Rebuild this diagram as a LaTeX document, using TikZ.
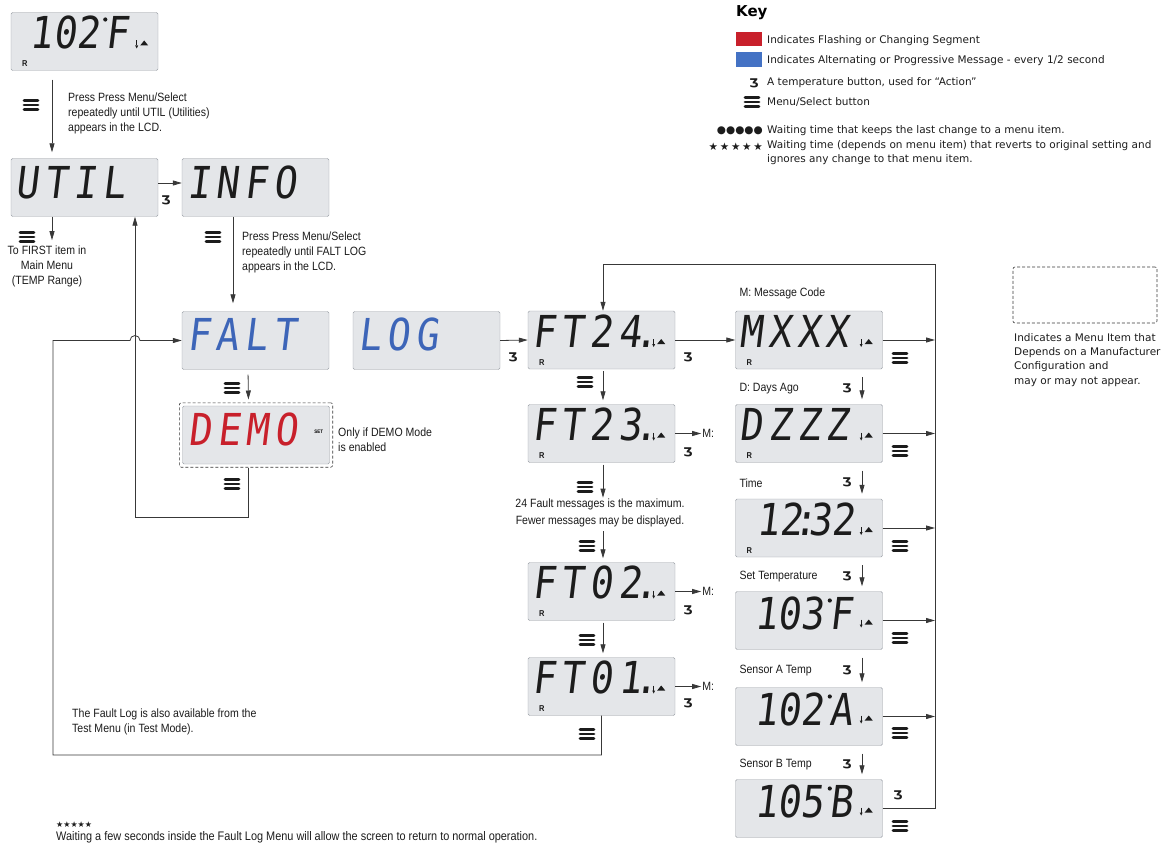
\documentclass[tikz,border=0pt]{standalone}
\usepackage{fontspec}
\setmainfont{Liberation Sans}[FakeStretch=0.88]
\newfontfamily\flkeyfont{DejaVu Sans}
\newfontfamily\flsegfont{DejaVu Sans Mono}[FakeSlant=0.12,FakeStretch=0.87]
\newfontfamily\flsegwide{DejaVu Sans Mono}[FakeSlant=0.12,FakeStretch=0.87,LetterSpace=13]
\usetikzlibrary{arrows.meta,positioning,calc,fit}
\definecolor{flink}   {HTML}{1C1C1C}
\definecolor{flwirec} {HTML}{383838}
\definecolor{flscreen}{HTML}{E4E6E9}
\definecolor{flrim}   {HTML}{9A9EA5}
\definecolor{flblue}  {HTML}{3D65B8}
\definecolor{flred}   {HTML}{C8202B}
\definecolor{flkeyblu}{HTML}{4472C4}
\newcommand\fldeg{\hspace{6pt}}
\newcommand\fldp{\kern-0.16em.}
\tikzset{
  fllcd/.style={draw=flrim, fill=flscreen, rounded corners=1.5pt, minimum width=147pt,
                minimum height=58pt, inner sep=0pt},
  flseg/.style={font=\flsegwide\fontsize{44}{44}\selectfont, text=flink, inner sep=0pt,
                anchor=base west},
  flsegnum/.style={flseg, font=\flsegfont\fontsize{44}{44}\selectfont},
  flarrow/.style={-{Triangle[length=9pt,width=5pt]}, draw=flwirec, line width=0.8pt},
  fltext/.style={font=\fontsize{12}{15}\selectfont, text=flink, inner sep=1pt},
  flkey/.style={font=\flkeyfont\fontsize{10.5}{14.3}\selectfont, text=flink, inner sep=1pt},
  flbtn/.style={font=\flkeyfont\bfseries\fontsize{12}{12}\selectfont, text=flink, inner sep=0pt},
  flreg/.style={font=\bfseries\fontsize{8.5}{8.5}\selectfont, text=flink, inner sep=0pt},
  fldash/.style={draw=flwirec, dash pattern=on 3pt off 2pt, rounded corners=2pt, line width=0.6pt},
  flmenu/.pic={\foreach \k in {-4.3,0,4.3}
                 \draw[flink, line width=2.8pt, line cap=round] (-7pt,\k pt) -- (7pt,\k pt);},
  flind/.pic={\fill[flink] (-1pt,-2pt) -- (7pt,-2pt) -- (3pt,3pt) -- cycle;
              \draw[flink, line width=0.6pt] (-4.5pt,3pt) -- (-4.5pt,-2pt);
              \fill[flink] (-6pt,-2pt) -- (-3pt,-2pt) -- (-4.5pt,-5pt) -- cycle;},
}
\begin{document}
\begin{tikzpicture}[x=1pt,y=-1pt]
  \useasboundingbox (0,0) rectangle (1163,848);

  % screens
  \node[fllcd] (home) at (84.5,41.5) {};
  \node[fllcd] (util) at (84.5,187.5) {};
  \node[fllcd] (info) at (255.5,187.5) {};
  \node[fllcd] (falt) at (255.5,340.5) {};
  \node[fllcd] (log) at (426.5,340.5) {};
  \node[fllcd] (demo) at (256,435) {};
  \node[fldash, fit=(demo), inner sep=3pt] (demobox) {};
  \node[fllcd] (ft24) at (601.5,340) {};
  \node[fllcd] (ft23) at (601.5,433.5) {};
  \node[fllcd] (ft02) at (601.5,591.5) {};
  \node[fllcd] (ft01) at (601.5,686.5) {};
  \node[fllcd] (mcode) at (809,340) {};
  \node[fllcd] (days) at (809,433.5) {};
  \node[fllcd] (clock) at (809,528) {};
  \node[fllcd] (settemp) at (809,620.5) {};
  \node[fllcd] (sensa) at (809,716.5) {};
  \node[fllcd] (sensb) at (809,808.5) {};

  % segment texts
  \node[flsegnum] (home-t) at ([xshift=19pt,yshift=-7pt]home.west) {102\fldeg F};
  \node[flseg] (util-t) at ([xshift=5pt,yshift=-11pt]util.west) {UTIL};
  \node[flseg] (info-t) at ([xshift=5pt,yshift=-11pt]info.west) {INFO};
  \node[flseg, text=flblue] (falt-t) at ([xshift=5pt,yshift=-10pt]falt.west) {FALT};
  \node[flseg, text=flblue] (log-t) at ([xshift=5pt,yshift=-10pt]log.west) {LOG};
  \node[flseg, text=flred] (demo-t) at ([xshift=6pt,yshift=-10pt]demo.west) {DEMO};
  \node[flseg] (ft24-t) at ([xshift=4pt,yshift=-7pt]ft24.west) {FT24\fldp};
  \node[flseg] (ft23-t) at ([xshift=4pt,yshift=-7pt]ft23.west) {FT23\fldp};
  \node[flseg] (ft02-t) at ([xshift=4pt,yshift=-7pt]ft02.west) {FT02\fldp};
  \node[flseg] (ft01-t) at ([xshift=4pt,yshift=-7pt]ft01.west) {FT01\fldp};
  \node[flseg] (mcode-t) at ([xshift=4pt,yshift=-7pt]mcode.west) {MXXX};
  \node[flseg] (days-t) at ([xshift=4pt,yshift=-7pt]days.west) {DZZZ};
  \node[flsegnum] (clock-t) at ([xshift=21pt,yshift=-7pt]clock.west) {12\kern-0.2em:\kern-0.2em32};
  \node[flsegnum] (settemp-t) at ([xshift=19pt,yshift=-9pt]settemp.west) {103\fldeg F};
  \node[flsegnum] (sensa-t) at ([xshift=19pt,yshift=-9pt]sensa.west) {102\fldeg A};
  \node[flsegnum] (sensb-t) at ([xshift=19pt,yshift=-9pt]sensb.west) {105\fldeg B};
  \foreach \s in {home,settemp,sensa,sensb}
    \fill[flink] ([xshift=75.5pt,yshift=29pt]\s-t.base west) circle (2.1pt);

  \foreach \s in {home,ft24,ft23,ft02,ft01,mcode,days,clock}
    \node[flreg] (\s-r) at ([xshift=14pt,yshift=7pt]\s.south west) {R};
  \foreach \s in {home,ft24,ft23,ft02,ft01,mcode,days,clock,settemp,sensa,sensb}
    \pic at ([xshift=-17pt,yshift=-2pt]\s.east) {flind};
  \node[font=\bfseries\fontsize{5}{5}\selectfont, inner sep=0pt] (demoset)
    at ([xshift=-11pt,yshift=3pt]demo.east) {SET};

  % notes
  \node[fltext, anchor=west, align=left] (press1) at (67,113)
    {Press Press Menu/Select\\repeatedly until UTIL (Utilities)\\appears in the LCD.};
  \node[fltext, align=center] (tofirst) at (47,266)
    {To FIRST item in\\Main Menu\\(TEMP Range)};
  \node[fltext, anchor=west, align=left] (press2) at (241,252)
    {Press Press Menu/Select\\repeatedly until FALT LOG\\appears in the LCD.};
  \node[fltext, anchor=west, align=left] (demonote) at (337,440)
    {Only if DEMO Mode\\is enabled};
  \node[fltext, align=center] (faultmax) at (600,513)
    {24 Fault messages is the maximum.\\[2pt]Fewer messages may be displayed.};
  \node[fltext, anchor=west, align=left] (testnote) at (71,721.5)
    {The Fault Log is also available from the\\Test Menu (in Test Mode).};
  \node[fltext, anchor=west] (waitstars) at (55,825)
    {\flkeyfont\fontsize{8}{8}\selectfont ★★★★★};
  \node[fltext, anchor=west, font=\fontsize{12.4}{15}\selectfont] (waitnote) at (55,837)
    {Waiting a few seconds inside the Fault Log Menu will allow the screen to return to normal operation.};

  % labels of the message screens
  \node[fltext, anchor=west] (lblmcode) at ([xshift=3pt,yshift=17pt]mcode.north west) {M: Message Code};
  \node[fltext, anchor=west] (lbldays) at ([xshift=3pt,yshift=16pt]days.north west) {D: Days Ago};
  \node[fltext, anchor=west] (lblclock) at ([xshift=3pt,yshift=16pt]clock.north west) {Time};
  \node[fltext, anchor=west] (lblset) at ([xshift=3pt,yshift=15pt]settemp.north west) {Set Temperature};
  \node[fltext, anchor=west] (lblsensa) at ([xshift=3pt,yshift=17pt]sensa.north west) {Sensor A Temp};
  \node[fltext, anchor=west] (lblsensb) at ([xshift=3pt,yshift=15pt]sensb.north west) {Sensor B Temp};
  \node[fltext, anchor=west] (m23) at ([xshift=26pt]ft23.east) {M:};
  \node[fltext, anchor=west] (m02) at ([xshift=26pt]ft02.east) {M:};
  \node[fltext, anchor=west] (m01) at ([xshift=26pt]ft01.east) {M:};

  % buttons
  \foreach \p in {(31,105),(27,237),(213,237),(232,388),(232,484),(585,382),(585,487),
                  (587,546),(587,640),(587,734),(900,358),(900,451),(900,546),(900,638),
                  (900,733),(900,826),(752,102)}
    \pic at \p {flmenu};
  \foreach \p [count=\i] in {(166,200),(513,357),(688,357),(688,452),(688,610),(688,703),
                  (847,388),(847,482),(847,576),(847,670),(847,764),(898,795),(754,83)}
    \node[flbtn] (btn\i) at \p {Ʒ};

  % connectors
  \coordinate (retcorner) at (53,755);
  \coordinate (hop) at ([xshift=50.5pt]util.south |- falt.west);
  \coordinate (rtop) at (935,264);
  \draw[flarrow, shorten <=9pt, shorten >=6pt] ([xshift=-32.5pt]home.south) -- ([xshift=-32.5pt]util.north);
  \draw[flarrow] ([yshift=4.5pt]util.east) -- ([yshift=4.5pt]info.west);
  \draw[flarrow, shorten >=4pt] ([xshift=-32.5pt]util.south) -- ([xshift=-32.5pt]util.south |- tofirst.north);
  \draw[flarrow, shorten >=8pt] ([xshift=-22.5pt]info.south) -- ([xshift=-22.5pt]falt.north);
  \draw[flarrow, shorten <=5pt, shorten >=3pt] ([xshift=-7.5pt]falt.south) -- ([xshift=-7.5pt]demobox.north);
  \draw[flarrow] ([xshift=-7.5pt]demobox.south) -- ++(0,50) -| ([xshift=50.5pt]util.south);
  \draw[flarrow] (ft01.south) |- (retcorner) |- ([xshift=-5pt]hop)
    arc[start angle=180, end angle=0, radius=5pt] -- (falt.west);
  \draw[flarrow] (log.east) -- (ft24.west);
  \draw[flarrow] (ft24.east) -- (mcode.west);
  \draw[flarrow] (ft23.east) -- (m23.west);
  \draw[flarrow] (ft02.east) -- (m02.west);
  \draw[flarrow] (ft01.east) -- (m01.west);
  \draw[flarrow, shorten <=2pt, shorten >=4pt] ([xshift=1.5pt]ft24.south) -- ([xshift=1.5pt]ft23.north);
  \draw[flarrow, shorten <=2pt] ([xshift=1.5pt]ft23.south) -- ([xshift=1.5pt]ft23.south |- faultmax.north);
  \draw[flarrow, shorten <=3pt, shorten >=4pt] ([xshift=1.5pt]ft02.north |- faultmax.south) -- ([xshift=1.5pt]ft02.north);
  \draw[flarrow, shorten <=2pt, shorten >=4pt] ([xshift=1.5pt]ft02.south) -- ([xshift=1.5pt]ft01.north);
  \foreach \a/\b in {mcode/days,days/clock,clock/settemp,settemp/sensa,sensa/sensb}
    \draw[flarrow, shorten <=8pt, shorten >=5pt] ([xshift=53pt]\a.south) -- ([xshift=53pt]\b.north);
  \foreach \s in {mcode,days,clock,settemp,sensa}
    \draw[flarrow] (\s.east) -- (\s.east -| rtop);
  \draw[flarrow] (sensb.east) -| (rtop) -| ([xshift=1.5pt]ft24.north);

  % key
  \node[font=\flkeyfont\bfseries\fontsize{15}{15}\selectfont, anchor=west, inner sep=0pt] (keytitle) at (736,13) {Key};
  \node[fill=flred, minimum width=26pt, minimum height=14pt, inner sep=0pt] (keyred) at (749,39) {};
  \node[fill=flkeyblu, minimum width=26pt, minimum height=15pt, inner sep=0pt] (keyblue) at (749,59.5) {};
  \node[flkey, anchor=west] (keyflash) at (766,41) {Indicates Flashing or Changing Segment};
  \node[flkey, anchor=west] (keyalt) at (766,61) {Indicates Alternating or Progressive Message - every 1/2 second};
  \node[flkey, anchor=west] (keytemp) at (766,83) {A temperature button, used for “Action”};
  \node[flkey, anchor=west] (keymenu) at (766,102) {Menu/Select button};
  \node[flkey, anchor=east] (keydots) at (764,131) {\fontsize{10.5}{10.5}\selectfont ●●●●●};
  \node[flkey, anchor=west] (keykeep) at (766,131) {Waiting time that keeps the last change to a menu item.};
  \node[flkey, anchor=east] (keystars) at (764,147) {\fontsize{10.5}{10.5}\selectfont ★\,★\,★\,★\,★};
  \node[flkey, anchor=north west, align=left] (keyrevert) at (766,139)
    {Waiting time (depends on menu item) that reverts to original setting and\\ignores any change to that menu item.};

  \node[fldash, minimum width=144pt, minimum height=56pt] (mfgbox) at (1085,295) {};
  \node[flkey, anchor=north west, align=left] (mfgnote) at (1013,332)
    {Indicates a Menu Item that\\Depends on a Manufacturer\\Configuration and\\may or may not appear.};
\end{tikzpicture}
\end{document}
